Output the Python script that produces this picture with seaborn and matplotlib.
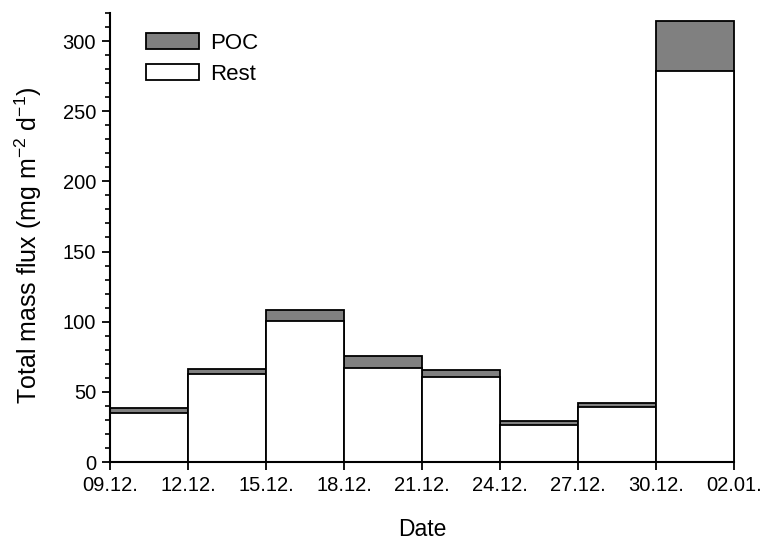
import matplotlib
matplotlib.use("Agg")
import matplotlib.pyplot as plt
import seaborn as sns
import pandas as pd
from matplotlib.patches import Patch
from matplotlib.ticker import MultipleLocator

# Sampling interval start/end dates
dates = ["09.12.", "12.12.", "15.12.", "18.12.", "21.12.", "24.12.", "27.12.", "30.12.", "02.01."]
intervals = ["1", "2", "3", "4", "5", "6", "7", "8"]
rest = [35.2, 62.4, 100.6, 67.1, 60.9, 26.4, 39.0, 279.0]
poc = [3.2, 4.0, 8.0, 8.1, 4.8, 3.1, 3.4, 35.0]

df = pd.DataFrame({"interval": intervals, "rest": rest, "poc": poc})
df["total"] = df["rest"] + df["poc"]

sns.set_style("ticks")
plt.rcParams["font.family"] = ["Liberation Sans", "DejaVu Sans"]
plt.rcParams["text.color"] = "black"
plt.rcParams["axes.labelcolor"] = "black"
plt.rcParams["mathtext.fontset"] = "custom"
plt.rcParams["mathtext.rm"] = "Liberation Sans"
plt.rcParams["mathtext.it"] = "Liberation Sans:italic"

fig = plt.figure(figsize=(7.64, 5.4), dpi=100)
ax = fig.add_axes([110 / 764, 1 - 462 / 540, 624 / 764, 449 / 540])

sns.barplot(data=df, x="interval", y="total", color="#808080", width=1.0,
            edgecolor="black", linewidth=1.3, saturation=1, ax=ax)
sns.barplot(data=df, x="interval", y="rest", color="white", width=1.0,
            edgecolor="black", linewidth=1.3, saturation=1, ax=ax)
for p in ax.patches:
    p.set_clip_on(False)

ax.set_xlim(-0.5, len(intervals) - 0.5)
ax.set_ylim(0, 320)
ax.set_xticks([i - 0.5 for i in range(len(dates))])
ax.set_xticklabels(dates)
ax.yaxis.set_major_locator(MultipleLocator(50))
ax.yaxis.set_minor_locator(MultipleLocator(10))
ax.set_yticks([0, 50, 100, 150, 200, 250, 300])
ax.tick_params(axis="both", which="major", labelsize=14.5, length=6, width=1.3,
               color="black", labelcolor="black", pad=4)
ax.tick_params(axis="y", which="minor", length=3.5, width=1.2, color="black")

sns.despine(ax=ax)
for s in ["left", "bottom"]:
    ax.spines[s].set_color("black")
    ax.spines[s].set_linewidth(1.5)

ax.set_xlabel("Date", fontsize=16.5, labelpad=17)
ax.set_ylabel("Total mass flux (mg m$^{\\mathrm{-2}}$ d$^{\\mathrm{-1}}$)", fontsize=18)
ax.yaxis.set_label_coords(-0.105, 0.483)

handles = [Patch(facecolor="#808080", edgecolor="black", linewidth=1.3, label="POC"),
           Patch(facecolor="white", edgecolor="black", linewidth=1.3, label="Rest")]
ax.legend(handles=handles, loc="upper left", frameon=False, fontsize=16,
          handlelength=2.4, handleheight=0.75, handletextpad=0.5, labelspacing=0.45,
          borderpad=0, borderaxespad=0, bbox_to_anchor=(36 / 624, 1 - 20 / 449))

fig.savefig("out.png", dpi=100)
